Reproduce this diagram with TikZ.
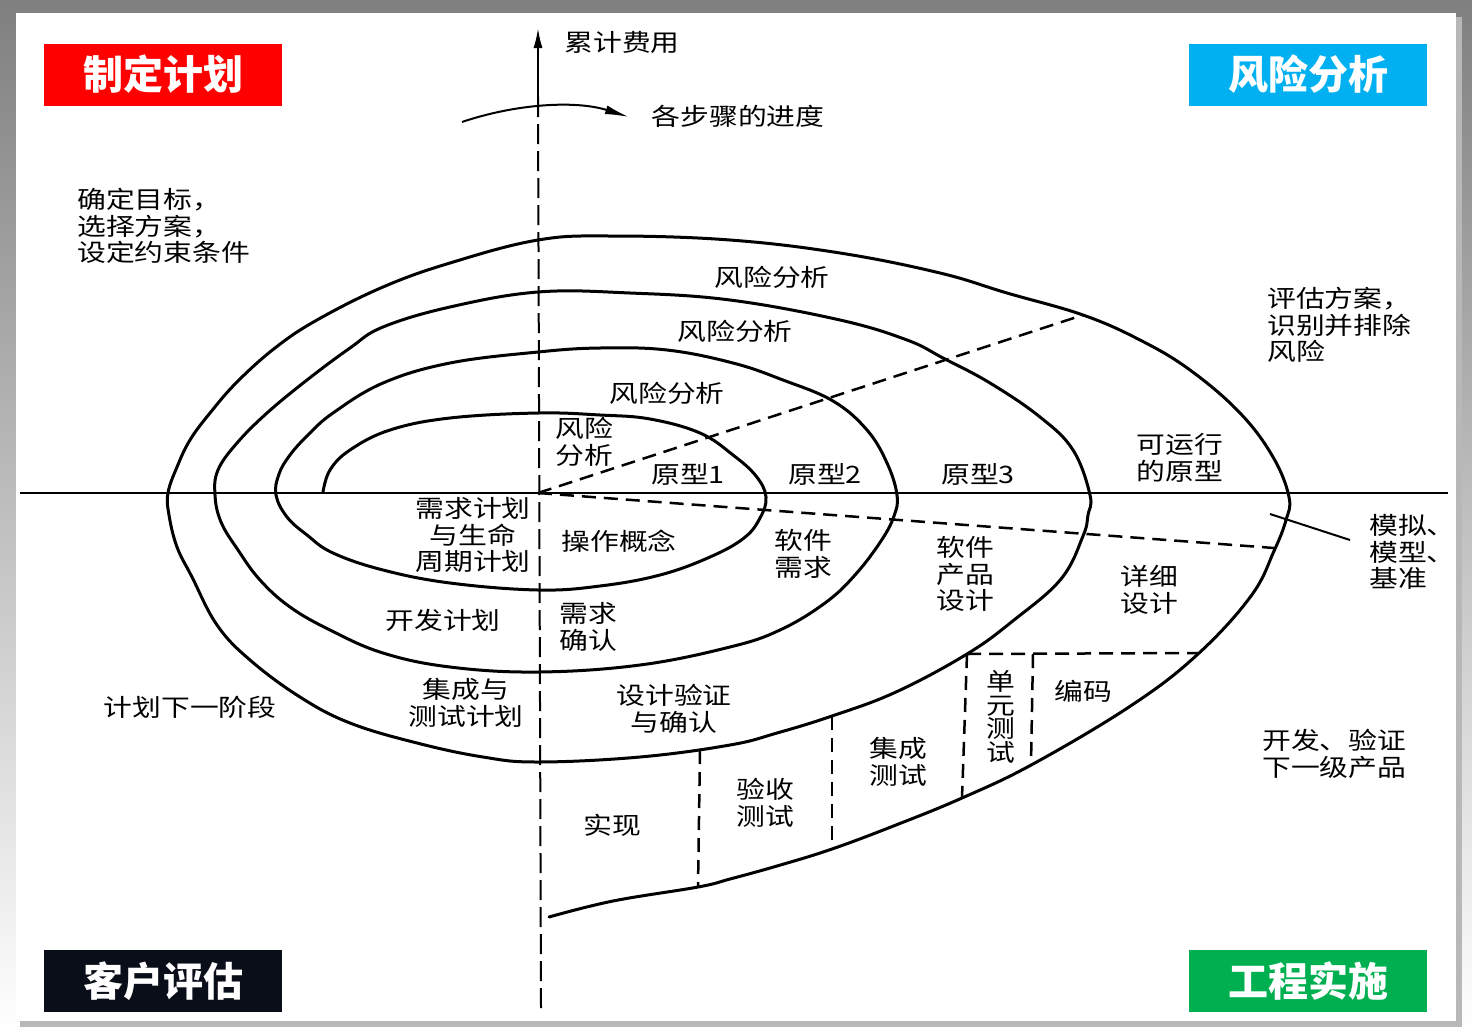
\documentclass[tikz,border=0pt]{standalone}
\usepackage{fontspec}
\newfontfamily\cjk[FakeStretch=1.2]{Noto Sans CJK SC}
\newfontfamily\cjkt{Noto Sans CJK SC}
\usetikzlibrary{arrows.meta}
\definecolor{tred}{HTML}{FF0000}
\definecolor{tblue}{HTML}{00B0F0}
\definecolor{tblack}{HTML}{0A0E18}
\definecolor{tgreen}{HTML}{00B050}
\definecolor{shade}{HTML}{D6D6D6}
\definecolor{shadedk}{HTML}{B8B8B8}
\begin{document}
\begin{tikzpicture}[x=1pt,y=-1pt,
  lbl/.style={font=\cjk\fontsize{24}{26.5}\selectfont, inner sep=0pt, align=center},
  lbll/.style={lbl, align=left},
  title/.style={minimum width=238pt, minimum height=62pt, inner sep=0pt, text=white,
    font=\cjkt\bfseries\fontsize{40}{44}\selectfont},
  spiral/.style={line width=3pt, line join=round, line cap=round},
  dsh/.style={line width=2.5pt, dash pattern=on 14pt off 8pt},
  axis/.style={line width=2pt},
]
\useasboundingbox (0,0) rectangle (1472,1034);
\fill[shade] (0,0) rectangle (1472,1034);
\fill[shadedk] (20,17) rectangle (1462,1027);
\fill[white] (16,13) rectangle (1456,1021);

% title boxes
\node[title, fill=tred] (t1) at (163,74.5) {制定计划};
\node[title, fill=tblue] (t2) at (1308,74.5) {风险分析};
\node[title, fill=tblack] (t3) at (163,981) {客户评估};
\node[title, fill=tgreen] (t4) at (1308,981) {工程实施};

% axes
\coordinate (O) at (538,493);
\coordinate (xl) at (20,493);
\coordinate (xr) at (1448,493);
\coordinate (ytop) at (538,28);
\coordinate (ymid) at (538,97);
\coordinate (ybot) at (541,1008);
\draw[axis] (xl) -- (xr);
\draw[line width=2pt, dash pattern=on 20pt off 7pt] (ybot) -- (ymid);
\draw[line width=2pt, -{Latex[length=20pt,width=9pt]}] (ymid) -- (ytop);

% curved progress arrow
\coordinate (ca) at (462,122);
\coordinate (cb) at (629,117);
\draw[line width=2pt, -{Latex[length=24pt,width=9pt]}] (ca) .. controls (515,104) and (575,100) .. (cb);

% dashed radial lines
\coordinate (d1) at (1083,315);
\coordinate (d2) at (1274,548);
\draw[dsh] (O) -- (d1);
\draw[dsh] (O) -- (d2);

% dashed cells in lower right
\coordinate (h1) at (967,654);
\coordinate (h2) at (1198,653);
\coordinate (v1b) at (962,798);
\coordinate (v2t) at (1033,654);
\coordinate (v2b) at (1031,764);
\coordinate (v3t) at (832,716);
\coordinate (v3b) at (832,849);
\coordinate (v4t) at (700,750);
\coordinate (v4b) at (698,887);
\draw[dsh] (h1) -- (h2);
\draw[dsh] (h1) -- (v1b);
\draw[dsh] (v2t) -- (v2b);
\draw[dsh] (v3t) -- (v3b);
\draw[dsh] (v4t) -- (v4b);

% pointer line to 模拟
\coordinate (p1) at (1270,514);
\coordinate (p2) at (1350,540);
\draw[line width=2pt] (p1) -- (p2);

% spiral
\draw[spiral] plot[smooth, tension=0.65] coordinates {
 (323,492) (330,470) (350,450) (390,430) (450,418) (538,413) (600,415) (650,419) (700,433) (733,455) (756,476) (766,497)
 (760,518) (744,538) (710,557) (660,575) (600,586) (538,590) (450,583) (383,570) (333,553) (307,535) (287,517) (276,495)
 (279,474) (290,455) (308,435) (333,413) (383,383) (450,363) (538,352) (600,348) (667,350) (733,363) (783,380) (833,401) (867,430) (887,463) (897,495)
 (894,516) (881,541) (855,575) (825,603) (780,630) (730,647) (640,665) (538,672) (450,667) (383,653) (330,630) (290,607) (260,580) (238,550) (221,522) (215,495)
 (218,470) (237,443) (267,413) (307,380) (350,348) (383,327) (450,307) (538,292) (630,293) (730,300) (840,320) (907,340) (943,358) (990,383) (1040,417) (1073,450) (1090,495)
 (1088,515) (1083,536) (1061,579) (1014,620) (967,654) (896,692) (832,716) (777,733) (730,745) (640,757) (538,762) (483,757) (417,743) (350,723) (300,697) (250,660) (217,625) (192,577) (177,547) (169,515) (168,493)
 (177,467) (190,440) (210,413) (237,382) (275,348) (317,320) (383,287) (450,263) (538,240) (613,236) (730,240) (840,253) (940,273) (1007,293) (1083,315) (1140,340) (1190,370) (1240,413) (1273,457) (1289,497)
 (1286,520) (1274,551) (1251,596) (1198,654) (1132,705) (1033,764) (962,798) (896,825) (832,849) (777,866) (730,879) (698,887) (613,901) (549,917)
};

% labels
\node[lbl] (n1) at (622,42) {累计费用};
\node[lbl] (n2) at (738,116) {各步骤的进度};
\node[lbll, anchor=west] (n3) at (77,226) {确定目标，\\选择方案，\\设定约束条件};
\node[lbl] (r4) at (772,277) {风险分析};
\node[lbl] (r3) at (735,331) {风险分析};
\node[lbl] (r2) at (667,393) {风险分析};
\node[lbll] (r1) at (584,442) {风险\\分析};
\node[lbl] (p1n) at (688,474) {原型1};
\node[lbl] (p2n) at (825,474) {原型2};
\node[lbl] (p3n) at (978,474) {原型3};
\node[lbl] (p4n) at (1180,458) {可运行\\的原型};
\node[lbll, anchor=west] (n4) at (1267,325) {评估方案，\\识别并排除\\风险};
\node[lbll, anchor=west] (n5) at (1369,552) {模拟、\\模型、\\基准};
\node[lbl] (q1) at (473,535) {需求计划\\与生命\\周期计划};
\node[lbl] (q2) at (619,541) {操作概念};
\node[lbl] (q3) at (803,554) {软件\\需求};
\node[lbl] (q4) at (965,574) {软件\\产品\\设计};
\node[lbl] (q5) at (1149,590) {详细\\设计};
\node[lbl] (q6) at (443,620) {开发计划};
\node[lbll] (q7) at (588,627) {需求\\确认};
\node[lbl] (q8) at (466,703) {集成与\\测试计划};
\node[lbl] (q9) at (674,709) {设计验证\\与确认};
\node[lbl] (n6) at (190,707) {计划下一阶段};
\node[lbl] (s1) at (612,825) {实现};
\node[lbl] (s2) at (765,803) {验收\\测试};
\node[lbl] (s3) at (898,762) {集成\\测试};
\node[lbl, font=\cjk\fontsize{24}{23.5}\selectfont] (s4) at (1001,717) {单\\元\\测\\试};
\node[lbl] (s5) at (1083,691) {编码};
\node[lbll, anchor=west] (n7) at (1262,754) {开发、验证\\下一级产品};
\end{tikzpicture}
\end{document}
